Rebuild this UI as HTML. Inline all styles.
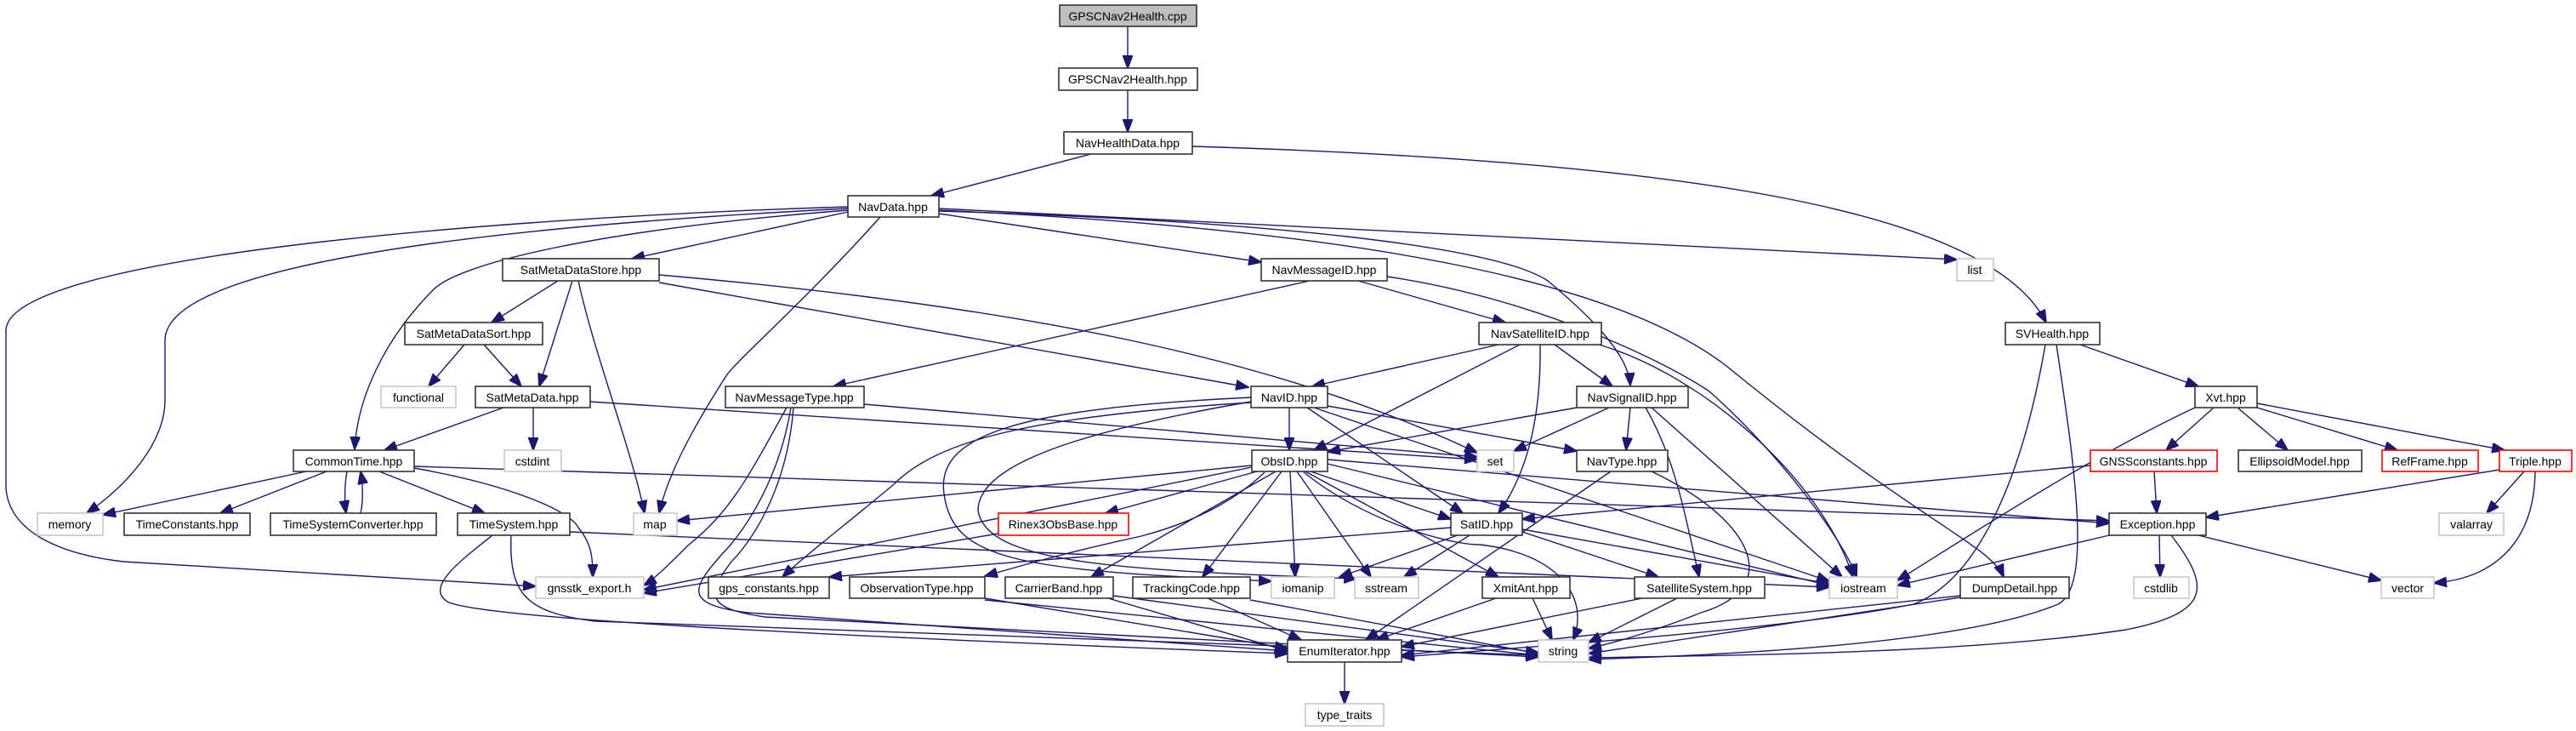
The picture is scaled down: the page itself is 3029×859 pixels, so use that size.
<!DOCTYPE html>
<html><head><meta charset="utf-8"><style>
html,body{margin:0;padding:0;background:#fff;}
svg{display:block;}
text{font-family:"Liberation Sans",sans-serif;font-size:14px;fill:#000;}
.e{fill:none;stroke:#191970;stroke-width:1.4;marker-end:url(#a);}
.n{fill:#fff;stroke:#333;stroke-width:1.6;}
.g{fill:#fff;stroke:#c8c8c8;stroke-width:1.6;}
.r{fill:#fff;stroke:#ff0000;stroke-width:1.6;}
</style></head><body>
<svg width="3029" height="859" viewBox="0 0 3029 859" xmlns="http://www.w3.org/2000/svg">
<defs><marker id="a" markerUnits="userSpaceOnUse" markerWidth="16" markerHeight="12" refX="15" refY="6" orient="auto"><path d="M0,0 L16,6 L0,12 z" fill="#191970" stroke="#191970"/></marker></defs>
<g>
<path class="e" d="M1326,31 L1326,80"/>
<path class="e" d="M1326,106 L1326,155"/>
<path class="e" d="M1283,181 L1095,230"/>
<path class="e" d="M1402,172 C2000,190 2340,250 2406,379"/>
<path class="e" d="M997,249 L743,304"/>
<path class="e" d="M1104,251 L1483,308"/>
<path class="e" d="M1104,245 L2301,305"/>
<path class="e" d="M997,243 C600,255 10,300 7,388 L7,573 C10,620 60,650 145,660 L630,689"/>
<path class="e" d="M997,245 C500,270 194,320 194,400 L194,470 C194,520 150,570 102,603"/>
<path class="e" d="M997,247 C700,270 540,310 510,340 C450,400 420,470 417,528"/>
<path class="e" d="M1035,255 C950,350 870,420 855,440 C810,510 785,560 775,603"/>
<path class="e" d="M1104,248 C1500,260 1760,290 1820,330 C1880,380 1915,420 1917,453"/>
<path class="e" d="M1104,247 C1600,270 1900,330 2030,430 C2250,610 2340,640 2356,678"/>
<path class="e" d="M1540,330 L980,454"/>
<path class="e" d="M1597,330 L1770,379"/>
<path class="e" d="M1631,325 C1800,350 1950,420 2010,460 C2100,540 2170,640 2183,678"/>
<path class="e" d="M1762,405 L1543,454"/>
<path class="e" d="M1787,405 L1545,529"/>
<path class="e" d="M1828,405 L1896,454"/>
<path class="e" d="M1811,405 C1812,480 1800,550 1762,603"/>
<path class="e" d="M1880,405 C2000,440 2140,560 2179,678"/>
<path class="e" d="M656,330 L578,379"/>
<path class="e" d="M673,330 L634,454"/>
<path class="e" d="M680,330 C700,420 740,520 758,603"/>
<path class="e" d="M775,332 L1468,455"/>
<path class="e" d="M775,323 C1200,360 1500,420 1737,532"/>
<path class="e" d="M546,405 L504,454"/>
<path class="e" d="M569,405 L613,454"/>
<path class="e" d="M592,479 L452,529"/>
<path class="e" d="M627,479 L627,529"/>
<path class="e" d="M694,472 L1737,540"/>
<path class="e" d="M360,554 L121,605"/>
<path class="e" d="M384,554 L259,603"/>
<path class="e" d="M408,554 C405,570 405,590 407,603"/>
<path class="e" d="M424,603 C427,590 427,570 424,554"/>
<path class="e" d="M446,554 L570,603"/>
<path class="e" d="M487,550 C600,570 670,600 680,620 C697,640 697,660 697,678"/>
<path class="e" d="M487,548 L2480,612"/>
<path class="e" d="M670,625 L2151,690"/>
<path class="e" d="M601,629 C598,700 620,720 700,730 L1809,770"/>
<path class="e" d="M579,629 C540,660 500,690 526,707 C560,725 900,745 1514,768"/>
<path class="e" d="M1016,475 L1737,537"/>
<path class="e" d="M925,479 C880,560 860,600 810,640 C790,660 770,680 757,688"/>
<path class="e" d="M930,479 C915,570 870,630 850,650 C815,690 800,710 880,720 L1514,765"/>
<path class="e" d="M933,479 C925,580 880,640 860,660 C830,700 830,715 900,725 L1809,772"/>
<path class="e" d="M1516,479 L1516,529"/>
<path class="e" d="M1561,477 L1854,530"/>
<path class="e" d="M1537,479 L1720,603"/>
<path class="e" d="M1545,479 L2151,683"/>
<path class="e" d="M1471,473 C1200,490 1100,520 1050,570 C990,620 950,650 920,678"/>
<path class="e" d="M1471,467 C1200,480 1100,510 1110,580 C1120,660 1200,670 1495,683"/>
<path class="e" d="M1471,472 C1250,510 1150,550 1150,600 C1160,660 1300,670 1595,680"/>
<path class="e" d="M1472,547 L796,612"/>
<path class="e" d="M1472,549 L757,693"/>
<path class="e" d="M1478,554 L1300,603"/>
<path class="e" d="M1487,555 C1440,600 1380,620 1342,630 C1250,650 1200,665 1158,677"/>
<path class="e" d="M1500,554 L1283,678"/>
<path class="e" d="M1507,554 L1414,678"/>
<path class="e" d="M1517,554 L1523,678"/>
<path class="e" d="M1525,554 L1612,678"/>
<path class="e" d="M1541,554 L1706,610"/>
<path class="e" d="M1535,554 L1762,678"/>
<path class="e" d="M1532,554 C1600,610 1700,640 1740,640 C1830,650 1870,700 1850,752"/>
<path class="e" d="M1561,545 L2151,688"/>
<path class="e" d="M1561,540 L2480,615"/>
<path class="e" d="M1174,627 L757,697"/>
<path class="e" d="M1714,629 L1575,678"/>
<path class="e" d="M1728,629 L1651,678"/>
<path class="e" d="M1790,625 L1950,678"/>
<path class="e" d="M1790,622 L2151,686"/>
<path class="e" d="M1706,620 L975,678"/>
<path class="e" d="M1854,479 L1561,531"/>
<path class="e" d="M1892,479 L1780,530"/>
<path class="e" d="M1917,479 L1912,529"/>
<path class="e" d="M1935,479 C1970,540 1980,600 1998,678"/>
<path class="e" d="M1942,479 L2166,678"/>
<path class="e" d="M1894,554 L1606,752"/>
<path class="e" d="M1942,554 C2060,610 2100,690 2000,720 C1950,740 1900,755 1868,762"/>
<path class="e" d="M1759,703 L1618,752"/>
<path class="e" d="M1802,703 L1825,752"/>
<path class="e" d="M1931,703 L1648,760"/>
<path class="e" d="M1972,703 L1868,755"/>
<path class="e" d="M1158,703 L1514,762"/>
<path class="e" d="M1158,705 L1809,770"/>
<path class="e" d="M1303,703 L1514,765"/>
<path class="e" d="M1309,700 L1809,767"/>
<path class="e" d="M1420,703 L1530,752"/>
<path class="e" d="M1470,705 L1809,768"/>
<path class="e" d="M1581,778 L1581,827"/>
<path class="e" d="M2446,405 L2585,454"/>
<path class="e" d="M2405,405 C2380,550 2330,680 2250,710 C2100,740 1800,760 1648,772"/>
<path class="e" d="M2418,405 C2440,550 2460,690 2420,710 C2300,760 2000,770 1868,775"/>
<path class="e" d="M2581,479 C2450,540 2300,640 2231,682"/>
<path class="e" d="M2603,479 L2547,529"/>
<path class="e" d="M2631,479 L2690,529"/>
<path class="e" d="M2654,479 L2819,529"/>
<path class="e" d="M2654,474 L2945,529"/>
<path class="e" d="M2533,554 L2536,603"/>
<path class="e" d="M2458,547 L1790,610"/>
<path class="e" d="M2939,552 L2594,608"/>
<path class="e" d="M2968,554 L2924,603"/>
<path class="e" d="M2981,554 C2980,640 2930,680 2862,685"/>
<path class="e" d="M2480,629 L2231,688"/>
<path class="e" d="M2539,629 L2540,678"/>
<path class="e" d="M2585,629 L2800,682"/>
<path class="e" d="M2553,629 C2600,690 2600,720 2500,740 C2300,770 2000,770 1868,773"/>
<path class="e" d="M2305,700 L1648,770"/>
<path class="e" d="M2305,702 L1868,768"/>
</g>
<g>
<rect x="1246" y="6" width="161" height="25" fill="#bfbfbf" stroke="#333" stroke-width="1.6"/><text x="1326" y="24" text-anchor="middle">GPSCNav2Health.cpp</text>
<rect class="n" x="1245" y="80" width="163" height="26"/><text x="1326" y="98" text-anchor="middle">GPSCNav2Health.hpp</text>
<rect class="n" x="1251" y="155" width="151" height="26"/><text x="1326" y="173" text-anchor="middle">NavHealthData.hpp</text>
<rect class="n" x="997" y="230" width="107" height="25"/><text x="1050" y="248" text-anchor="middle">NavData.hpp</text>
<rect class="n" x="591" y="304" width="184" height="26"/><text x="683" y="322" text-anchor="middle">SatMetaDataStore.hpp</text>
<rect class="n" x="1483" y="304" width="148" height="26"/><text x="1557" y="322" text-anchor="middle">NavMessageID.hpp</text>
<rect class="g" x="2301" y="304" width="43" height="26"/><text x="2322" y="322" text-anchor="middle">list</text>
<rect class="n" x="476" y="379" width="162" height="26"/><text x="557" y="397" text-anchor="middle">SatMetaDataSort.hpp</text>
<rect class="n" x="1739" y="379" width="144" height="26"/><text x="1811" y="397" text-anchor="middle">NavSatelliteID.hpp</text>
<rect class="n" x="2358" y="379" width="111" height="26"/><text x="2413" y="397" text-anchor="middle">SVHealth.hpp</text>
<rect class="g" x="448" y="454" width="88" height="25"/><text x="492" y="472" text-anchor="middle">functional</text>
<rect class="n" x="559" y="454" width="135" height="25"/><text x="626" y="472" text-anchor="middle">SatMetaData.hpp</text>
<rect class="n" x="853" y="454" width="163" height="25"/><text x="934" y="472" text-anchor="middle">NavMessageType.hpp</text>
<rect class="n" x="1471" y="454" width="90" height="25"/><text x="1516" y="472" text-anchor="middle">NavID.hpp</text>
<rect class="n" x="1854" y="454" width="131" height="25"/><text x="1919" y="472" text-anchor="middle">NavSignalID.hpp</text>
<rect class="n" x="2581" y="454" width="73" height="25"/><text x="2617" y="472" text-anchor="middle">Xvt.hpp</text>
<rect class="n" x="345" y="529" width="142" height="25"/><text x="416" y="547" text-anchor="middle">CommonTime.hpp</text>
<rect class="g" x="593" y="529" width="67" height="25"/><text x="626" y="547" text-anchor="middle">cstdint</text>
<rect class="n" x="1472" y="529" width="89" height="25"/><text x="1516" y="547" text-anchor="middle">ObsID.hpp</text>
<rect class="g" x="1737" y="529" width="43" height="25"/><text x="1758" y="547" text-anchor="middle">set</text>
<rect class="n" x="1854" y="529" width="107" height="25"/><text x="1907" y="547" text-anchor="middle">NavType.hpp</text>
<rect class="r" x="2458" y="529" width="149" height="25"/><text x="2532" y="547" text-anchor="middle">GNSSconstants.hpp</text>
<rect class="n" x="2632" y="529" width="145" height="25"/><text x="2704" y="547" text-anchor="middle">EllipsoidModel.hpp</text>
<rect class="r" x="2801" y="529" width="113" height="25"/><text x="2857" y="547" text-anchor="middle">RefFrame.hpp</text>
<rect class="r" x="2939" y="529" width="85" height="25"/><text x="2981" y="547" text-anchor="middle">Triple.hpp</text>
<rect class="g" x="44" y="603" width="77" height="26"/><text x="82" y="621" text-anchor="middle">memory</text>
<rect class="n" x="146" y="603" width="148" height="26"/><text x="220" y="621" text-anchor="middle">TimeConstants.hpp</text>
<rect class="n" x="318" y="603" width="195" height="26"/><text x="415" y="621" text-anchor="middle">TimeSystemConverter.hpp</text>
<rect class="n" x="538" y="603" width="132" height="26"/><text x="604" y="621" text-anchor="middle">TimeSystem.hpp</text>
<rect class="g" x="745" y="603" width="51" height="26"/><text x="770" y="621" text-anchor="middle">map</text>
<rect class="r" x="1174" y="603" width="153" height="26"/><text x="1250" y="621" text-anchor="middle">Rinex3ObsBase.hpp</text>
<rect class="n" x="1706" y="603" width="84" height="26"/><text x="1748" y="621" text-anchor="middle">SatID.hpp</text>
<rect class="n" x="2480" y="603" width="114" height="26"/><text x="2537" y="621" text-anchor="middle">Exception.hpp</text>
<rect class="g" x="2868" y="603" width="76" height="26"/><text x="2906" y="621" text-anchor="middle">valarray</text>
<rect class="g" x="630" y="678" width="127" height="25"/><text x="693" y="696" text-anchor="middle">gnsstk_export.h</text>
<rect class="n" x="833" y="678" width="142" height="25"/><text x="904" y="696" text-anchor="middle">gps_constants.hpp</text>
<rect class="n" x="999" y="678" width="159" height="25"/><text x="1078" y="696" text-anchor="middle">ObservationType.hpp</text>
<rect class="n" x="1182" y="678" width="127" height="25"/><text x="1245" y="696" text-anchor="middle">CarrierBand.hpp</text>
<rect class="n" x="1332" y="678" width="138" height="25"/><text x="1401" y="696" text-anchor="middle">TrackingCode.hpp</text>
<rect class="g" x="1495" y="678" width="74" height="25"/><text x="1532" y="696" text-anchor="middle">iomanip</text>
<rect class="g" x="1593" y="678" width="75" height="25"/><text x="1630" y="696" text-anchor="middle">sstream</text>
<rect class="n" x="1743" y="678" width="103" height="25"/><text x="1794" y="696" text-anchor="middle">XmitAnt.hpp</text>
<rect class="n" x="1922" y="678" width="153" height="25"/><text x="1998" y="696" text-anchor="middle">SatelliteSystem.hpp</text>
<rect class="g" x="2151" y="678" width="80" height="25"/><text x="2191" y="696" text-anchor="middle">iostream</text>
<rect class="n" x="2305" y="678" width="128" height="25"/><text x="2369" y="696" text-anchor="middle">DumpDetail.hpp</text>
<rect class="g" x="2509" y="678" width="65" height="25"/><text x="2541" y="696" text-anchor="middle">cstdlib</text>
<rect class="g" x="2800" y="678" width="62" height="25"/><text x="2831" y="696" text-anchor="middle">vector</text>
<rect class="n" x="1514" y="752" width="134" height="26"/><text x="1581" y="770" text-anchor="middle">EnumIterator.hpp</text>
<rect class="g" x="1809" y="752" width="59" height="26"/><text x="1838" y="770" text-anchor="middle">string</text>
<rect class="g" x="1535" y="827" width="92" height="26"/><text x="1581" y="845" text-anchor="middle">type_traits</text>
</g>
</svg>
</body></html>
